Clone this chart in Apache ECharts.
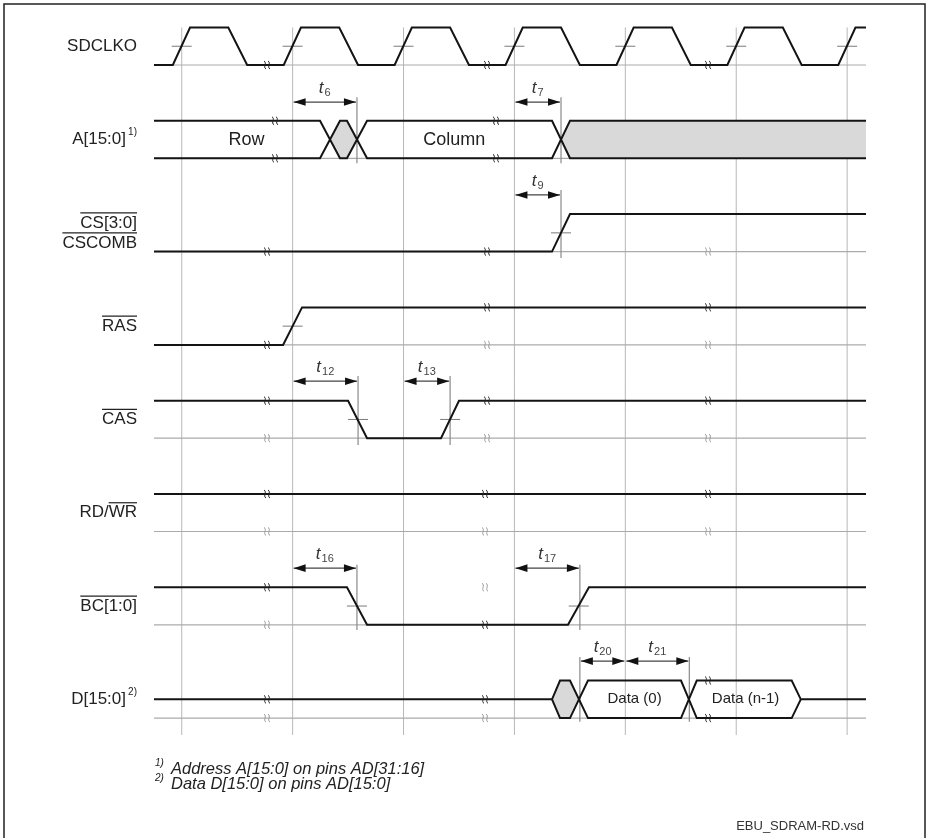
<!DOCTYPE html>
<html><head><meta charset="utf-8">
<script src="https://cdn.jsdelivr.net/npm/echarts@6/dist/echarts.min.js"></script>
<style>html,body{margin:0;padding:0;background:#fff}#c{width:927px;height:838px}</style>
</head><body><div id="c"></div>
<script>
// ================= DATA (time in clock periods, level 0=low 1=high) =================
const TIME_MIN = -0.25, TIME_MAX = 6.17;
const gridTimes = [0, 1, 2, 3, 4, 5, 6];

const labelRows  = [0, 1, 2, 2, 3, 4, 5, 6, 7];
const labelTexts = ['SDCLKO', 'A[15:0]', 'CS[3:0]', 'CSCOMB', 'RAS', 'CAS', 'RD/WR', 'BC[1:0]', 'D[15:0]'];
const labelSups  = ['', '1)', '', '', '', '', '', '', '2)'];
const labelOver  = ['', '', 'CS[3:0]', 'CSCOMB', 'RAS', 'CAS', 'WR', 'BC[1:0]', ''];

const clkWave = [[-0.25,0],[-0.08,0],[0.075,1],[0.42,1],[0.59,0],[0.92,0],[1.075,1],[1.42,1],[1.59,0],
  [1.92,0],[2.075,1],[2.42,1],[2.59,0],[2.92,0],[3.075,1],[3.42,1],[3.59,0],[3.92,0],[4.075,1],[4.42,1],
  [4.59,0],[4.92,0],[5.075,1],[5.42,1],[5.59,0],[5.92,0],[6.075,1],[6.17,1]];
const addrHi = [[-0.25,1],[1.247,1],[1.427,0],[1.49,0],[1.671,1],[3.339,1],[3.501,0],[6.17,0]];
const addrLo = [[-0.25,0],[1.247,0],[1.427,1],[1.49,1],[1.671,0],[3.339,0],[3.501,1],[6.17,1]];
const csWave  = [[-0.25,0],[3.339,0],[3.501,1],[6.17,1]];
const rasWave = [[-0.25,0],[0.914,0],[1.085,1],[6.17,1]];
const casWave = [[-0.25,1],[1.5,1],[1.671,0],[2.338,0],[2.5,1],[6.17,1]];
const rdwrWave = [[-0.25,1],[6.17,1]];
const bcWave  = [[-0.25,1],[1.49,1],[1.671,0],[3.483,0],[3.672,1],[6.17,1]];
const dataHi = [[-0.25,0.5],[3.339,0.5],[3.411,1],[3.501,1],[3.663,0],[4.502,0],[4.644,1],[5.5,1],[5.582,0.5],[6.17,0.5]];
const dataLo = [[3.339,0.5],[3.411,0],[3.501,0],[3.663,1],[4.502,1],[4.644,0],[5.5,0],[5.582,0.5]];

const fillRows = [1, 1, 7];
const fillShapes = [
  [[1.337,0.5],[1.427,1],[1.49,1],[1.58,0.5],[1.49,0],[1.427,0]],
  [[3.42,0.5],[3.501,1],[6.17,1],[6.17,0],[3.501,0]],
  [[3.339,0.5],[3.411,1],[3.501,1],[3.582,0.5],[3.501,0],[3.411,0]]
];

// 50% edge ticks: [time, row]
const edgeTicks = [[0,0],[1,0],[2,0],[3,0],[4,0],[5,0],[6,0],[3.42,2],[1.0,3],[1.59,4],[2.42,4],[1.58,6],[3.58,6]];
// break marks: [time, row, level, dark]
const breakMarks = [
  [0.769,0,0,1],[2.753,0,0,1],[4.746,0,0,1],
  [0.841,1,1,1],[0.841,1,0,1],[2.834,1,1,1],[2.834,1,0,1],
  [0.769,2,0,1],[2.753,2,0,1],[4.746,2,0,0],
  [0.769,3,0,1],[2.753,3,1,1],[2.753,3,0,0],[4.746,3,1,1],[4.746,3,0,0],
  [0.769,4,1,1],[0.769,4,0,0],[2.753,4,1,1],[2.753,4,0,0],[4.746,4,1,1],[4.746,4,0,0],
  [0.769,5,1,1],[0.769,5,0,0],[2.735,5,1,1],[2.735,5,0,0],[4.746,5,1,1],[4.746,5,0,0],
  [0.769,6,1,1],[0.769,6,0,0],[2.735,6,1,0],[2.735,6,0,1],
  [0.769,7,0.5,1],[0.769,7,0,0],[2.735,7,0.5,1],[2.735,7,0,0],[4.746,7,1,1],[4.746,7,0,1]
];
// reference verticals: [time, row, levelTop, levelBottom]
const refLines = [[1.58,1,1.63,-0.13],[3.42,1,1.63,-0.13],[3.42,2,1.64,-0.17],[1.59,4,1.66,-0.18],
  [2.42,4,1.66,-0.18],[1.58,6,1.6,-0.14],[3.59,6,1.6,-0.14],[3.59,7,1.63,-0.1],[4.577,7,1.63,-0.1]];
// timing arrows
const tNames = ['6','7','9','12','13','16','17','20','21'];
const tFrom  = [1, 3, 3, 1, 2, 1, 3, 3.59, 4];
const tTo    = [1.58, 3.42, 3.42, 1.59, 2.42, 1.58, 3.59, 4, 4.577];
const tRow   = [1, 1, 2, 4, 4, 6, 6, 7, 7];
const tLevel = [1.5, 1.5, 1.51, 1.52, 1.52, 1.51, 1.51, 1.52, 1.52];
// bus value texts
const busTexts = ['Row', 'Column', 'Data (0)', 'Data (n-1)'];
const busTimes = [0.584, 2.457, 4.083, 5.084];
const busRows  = [1, 1, 7, 7];

// ================= RENDERING =================
const HIGH = 0.402;              // signal swing in row units
function Y(row, lvl) { return row - lvl * HIGH; }
const FONT = 'Liberation Sans, Arial, sans-serif';
const mctx = document.createElement('canvas').getContext('2d');
function textW(font, s) { mctx.font = font; return mctx.measureText(s).width; }

const chart = echarts.init(document.getElementById('c'), null, {renderer: 'canvas'});
const series = [];

series.push({
  type: 'custom', z: 1, silent: true, clip: false,
  data: gridTimes.map(t => [t]),
  renderItem: (p, api) => {
    const a = api.coord([api.value(0), Y(0, 1)]), b = api.coord([api.value(0), Y(7, -0.45)]);
    return {type: 'line', shape: {x1: a[0], y1: a[1], x2: b[0], y2: b[1]}, style: {stroke: '#b8b8b8', lineWidth: 1}};
  }
});
for (let r = 0; r < 8; r++) {
  series.push({type: 'line', z: 2, silent: true, showSymbol: false, animation: false,
    data: [[TIME_MIN, Y(r, 0)], [TIME_MAX, Y(r, 0)]],
    lineStyle: {color: '#ababab', width: 1.2}});
}
series.push({
  type: 'custom', z: 3, silent: true, clip: false,
  data: fillShapes.map((s, i) => [i]),
  renderItem: (p, api) => {
    const i = api.value(0);
    const pts = fillShapes[i].map(q => api.coord([q[0], Y(fillRows[i], q[1])]));
    return {type: 'polygon', shape: {points: pts}, style: {fill: '#d9d9d9', stroke: null}};
  }
});
series.push({
  type: 'custom', z: 4, silent: true, clip: false,
  data: edgeTicks,
  renderItem: (p, api) => {
    const c = api.coord([api.value(0), Y(api.value(1), 0.5)]);
    return {type: 'line', shape: {x1: c[0] - 10, y1: c[1], x2: c[0] + 10, y2: c[1]}, style: {stroke: '#7a7a7a', lineWidth: 1}};
  }
});
series.push({
  type: 'custom', z: 4, silent: true, clip: false,
  data: refLines,
  renderItem: (p, api) => {
    const r = api.value(1);
    const a = api.coord([api.value(0), Y(r, api.value(2))]), b = api.coord([api.value(0), Y(r, api.value(3))]);
    return {type: 'line', shape: {x1: a[0], y1: a[1], x2: b[0], y2: b[1]}, style: {stroke: '#8a8a8a', lineWidth: 1.2}};
  }
});
const waves = [[0, clkWave], [1, addrHi], [1, addrLo], [2, csWave], [3, rasWave], [4, casWave],
  [5, rdwrWave], [6, bcWave], [7, dataHi], [7, dataLo]];
waves.forEach(([r, w]) => {
  series.push({type: 'line', z: 5, silent: true, showSymbol: false, animation: false,
    data: w.map(q => [q[0], Y(r, q[1])]),
    lineStyle: {color: '#141414', width: 2, join: 'miter'}});
});
series.push({
  type: 'custom', z: 6, silent: true, clip: false,
  data: breakMarks,
  renderItem: (p, api) => {
    const c = api.coord([api.value(0), Y(api.value(1), api.value(2))]);
    const col = api.value(3) ? '#222' : '#9a9a9a';
    const kids = [];
    [-2, 2].forEach(dx => {
      const x = c[0] + dx, y = c[1];
      kids.push({type: 'bezierCurve', shape: {x1: x - 1, y1: y - 4, cpx1: x + 2.5, cpy1: y - 2, cpx2: x - 2.5, cpy2: y + 2, x2: x + 1, y2: y + 4},
        style: {stroke: col, lineWidth: 1, fill: null}});
    });
    return {type: 'group', children: kids};
  }
});
series.push({
  type: 'custom', z: 6, silent: true, clip: false,
  data: tNames.map((n, i) => [i]),
  renderItem: (p, api) => {
    const i = api.value(0);
    const a = api.coord([tFrom[i], Y(tRow[i], tLevel[i])]), b = api.coord([tTo[i], Y(tRow[i], tLevel[i])]);
    const y = a[1], x1 = a[0] + 1, x2 = b[0] - 1, AH = 12, AW = 3.8;
    const tf = 'italic 17px ' + FONT, sf = '11px ' + FONT;
    const wt = textW(tf, 't'), ws = textW(sf, tNames[i]);
    const cx = (a[0] + b[0]) / 2, sx = cx - (wt + ws + 1) / 2;
    return {type: 'group', children: [
      {type: 'line', shape: {x1: x1, y1: y, x2: x2, y2: y}, style: {stroke: '#444', lineWidth: 1.2}},
      {type: 'polygon', shape: {points: [[x1, y], [x1 + AH, y - AW], [x1 + AH, y + AW]]}, style: {fill: '#111'}},
      {type: 'polygon', shape: {points: [[x2, y], [x2 - AH, y - AW], [x2 - AH, y + AW]]}, style: {fill: '#111'}},
      {type: 'text', x: sx, y: y - 14, style: {text: 't', font: tf, fill: '#333', align: 'left', verticalAlign: 'middle'}},
      {type: 'text', x: sx + wt + 1, y: y - 9, style: {text: tNames[i], font: sf, fill: '#444', align: 'left', verticalAlign: 'middle'}}
    ]};
  }
});
series.push({
  type: 'custom', z: 7, silent: true, clip: false,
  data: labelTexts.map((t, i) => [i]),
  renderItem: (p, api) => {
    const i = api.value(0);
    const c = api.coord([TIME_MIN, Y(labelRows[i], 0.5)]);
    const shift = labelTexts[i] === 'CS[3:0]' ? -10 : (labelTexts[i] === 'CSCOMB' ? 10 : 0);
    const y = c[1] + shift;
    const lf = '17px ' + FONT;
    let xr = c[0] - 17;
    const kids = [];
    if (labelSups[i]) {
      kids.push({type: 'text', x: xr, y: y - 7, style: {text: labelSups[i], font: '10px ' + FONT, fill: '#222', align: 'right', verticalAlign: 'middle'}});
      xr -= 11;
    }
    kids.push({type: 'text', x: xr, y: y, style: {text: labelTexts[i], font: lf, fill: '#222', align: 'right', verticalAlign: 'middle'}});
    if (labelOver[i]) {
      const w = textW(lf, labelOver[i]);
      kids.push({type: 'line', shape: {x1: xr - w, y1: y - 10, x2: xr, y2: y - 10}, style: {stroke: '#222', lineWidth: 1.2}});
    }
    return {type: 'group', children: kids};
  }
});
series.push({
  type: 'custom', z: 7, silent: true, clip: false,
  data: busTexts.map((t, i) => [i]),
  renderItem: (p, api) => {
    const i = api.value(0);
    const c = api.coord([busTimes[i], Y(busRows[i], 0.5)]);
    const fs = busRows[i] === 7 ? 15 : 18;
    return {type: 'text', x: c[0], y: c[1], style: {text: busTexts[i], font: fs + 'px ' + FONT, fill: '#222', align: 'center', verticalAlign: 'middle'}};
  }
});

chart.setOption({
  animation: false,
  backgroundColor: '#fff',
  grid: {left: 154, right: 61, top: 18.35, bottom: 73.25},
  xAxis: {type: 'value', min: TIME_MIN, max: TIME_MAX, show: false},
  yAxis: {type: 'value', min: -0.5, max: 7.5, inverse: true, show: false},
  graphic: [
    {type: 'rect', shape: {x: 4, y: 4, width: 921, height: 845}, style: {fill: null, stroke: '#222', lineWidth: 1.5}, silent: true},
    {type: 'text', x: 155, y: 763, style: {text: '1)', font: 'italic 10px ' + FONT, fill: '#222', verticalAlign: 'middle'}},
    {type: 'text', x: 171, y: 769, style: {text: 'Address A[15:0] on pins AD[31:16]', font: 'italic 16.5px ' + FONT, fill: '#222', verticalAlign: 'middle'}},
    {type: 'text', x: 155, y: 778, style: {text: '2)', font: 'italic 10px ' + FONT, fill: '#222', verticalAlign: 'middle'}},
    {type: 'text', x: 171, y: 784, style: {text: 'Data D[15:0] on pins AD[15:0]', font: 'italic 16.5px ' + FONT, fill: '#222', verticalAlign: 'middle'}},
    {type: 'text', x: 864, y: 826, style: {text: 'EBU_SDRAM-RD.vsd', font: '13px ' + FONT, fill: '#333', align: 'right', verticalAlign: 'middle'}}
  ],
  series: series
});
</script>
</body></html>
